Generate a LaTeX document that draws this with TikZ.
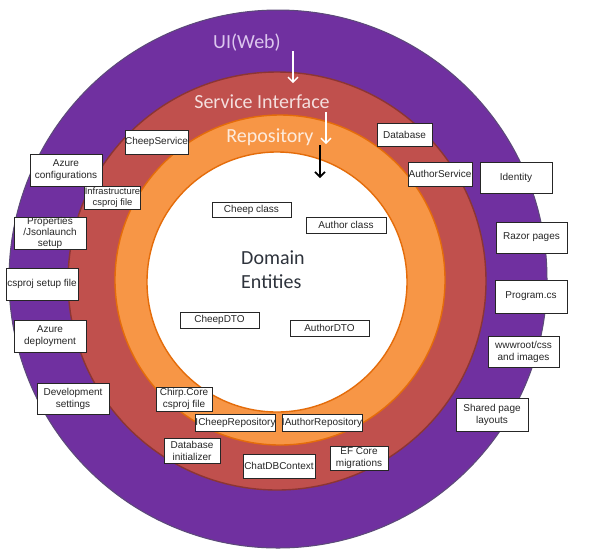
\documentclass[tikz,border=0pt]{standalone}
\usepackage{fontspec}
\setmainfont{Liberation Sans}
\newfontfamily\calib{Carlito}
\usetikzlibrary{arrows.meta}
\definecolor{cpurple}{HTML}{7030A0}
\definecolor{cpurpleedge}{HTML}{5B4A78}
\definecolor{cred}{HTML}{C0504D}
\definecolor{crededge}{HTML}{8C3533}
\definecolor{corange}{HTML}{F79646}
\definecolor{corangeedge}{HTML}{E46C0A}
\definecolor{tui}{HTML}{DCC6EE}
\definecolor{tsi}{HTML}{F4DEDD}
\definecolor{trepo}{HTML}{FDEBDD}
\definecolor{tdom}{HTML}{2E333C}
\begin{document}
\begin{tikzpicture}[x=1pt,y=-1pt,
  bx/.style={draw=black!85, line width=0.8pt, fill=white, inner sep=0pt, align=center,
    font=\fontsize{10}{12}\selectfont, text=black!85},
  ttl/.style={font=\calib\fontsize{20}{24}\selectfont, inner sep=0pt},
  warrow/.style={draw=white, line width=1.4pt, -{Straight Barb[length=5pt,width=10pt,line width=1.4pt]}},
  barrow/.style={draw=black, line width=1.6pt, -{Straight Barb[length=5pt,width=10pt,line width=1.6pt]}}]
\useasboundingbox (0,0) rectangle (594,550);
\fill[white] (0,0) rectangle (594,550);
% rings
\draw[fill=cpurple, draw=cpurpleedge, line width=1pt] (278,279) circle[radius=269pt];
\draw[fill=cred, draw=crededge, line width=1.4pt] (277,281) circle[radius=209pt];
\draw[fill=corange, draw=corangeedge, line width=1.4pt] (280,280) circle[radius=165pt];
\draw[fill=white, draw=corangeedge, line width=1.4pt] (277,282) circle[radius=130pt];
% titles
\node[ttl, text=tui, anchor=base] (ui) at (247,48) {UI(Web)};
\node[ttl, text=tsi, anchor=base] (si) at (262,108) {Service Interface};
\node[ttl, text=trepo, anchor=base] (repo) at (270,142) {Repository};
\node[ttl, text=tdom, anchor=base west] (dom1) at (241,264) {Domain};
\node[ttl, text=tdom, anchor=base west] (dom2) at (241,288) {Entities};
% arrows
\coordinate (a1s) at (293,51);
\coordinate (a1e) at (293,83);
\coordinate (a2s) at (326,112);
\coordinate (a2e) at (326,144);
\coordinate (a3s) at (320,145);
\coordinate (a3e) at (320,178);
\draw[warrow] (a1s) -- (a1e);
\draw[warrow] (a2s) -- (a2e);
\draw[barrow] (a3s) -- (a3e);
% boxes
\node[bx, minimum width=63, minimum height=24] (cheepservice) at (156.5,142) {CheepService};
\node[bx, minimum width=55, minimum height=23] (database) at (404.5,134.5) {Database};
\node[bx, minimum width=64, minimum height=24] (authorservice) at (440,174) {AuthorService};
\node[bx, minimum width=72, minimum height=31] (identity) at (516,177.5) {Identity};
\node[bx, minimum width=71, minimum height=31] (razor) at (531.5,237.5) {Razor pages};
\node[bx, minimum width=72, minimum height=33] (program) at (531,296.5) {Program.cs};
\node[bx, minimum width=71, minimum height=31] (wwwroot) at (523.5,351.5) {wwwroot/css\\and images};
\node[bx, minimum width=72, minimum height=33] (shared) at (492,414.5) {Shared page\\layouts};
\node[bx, minimum width=72, minimum height=32] (azconf) at (66,170) {Azure\\configurations};
\node[bx, minimum width=55, minimum height=23, font=\fontsize{9.4}{11.5}\selectfont] (infra) at (112.5,197.5) {Infrastructure\\csproj file};
\node[bx, minimum width=72, minimum height=32, font=\fontsize{10}{11.3}\selectfont] (props) at (50,233) {Properties\\/Jsonlaunch\\setup};
\node[bx, minimum width=72, minimum height=32] (csprojsetup) at (42,284) {csproj setup file};
\node[bx, minimum width=72, minimum height=32] (azdeploy) at (50,336) {Azure\\deployment};
\node[bx, minimum width=72, minimum height=31] (devset) at (73,398.5) {Development\\settings};
\node[bx, minimum width=56, minimum height=24] (chirpcore) at (184,399) {Chirp.Core\\csproj file};
\node[bx, minimum width=79, minimum height=17] (icheeprepo) at (235.5,422.5) {ICheepRepository};
\node[bx, minimum width=80, minimum height=17] (iauthorrepo) at (322,422.5) {IAuthorRepository};
\node[bx, minimum width=56, minimum height=25] (dbinit) at (192,450.5) {Database\\initializer};
\node[bx, minimum width=72, minimum height=24] (chatdb) at (279,466) {ChatDBContext};
\node[bx, minimum width=58, minimum height=24] (efcore) at (359,458) {EF Core\\migrations};
\node[bx, minimum width=79, minimum height=15] (cheepclass) at (251.5,209.5) {Cheep class};
\node[bx, minimum width=80, minimum height=16] (authorclass) at (346,225) {Author class};
\node[bx, minimum width=79, minimum height=16] (cheepdto) at (219.5,320) {CheepDTO};
\node[bx, minimum width=79, minimum height=16] (authordto) at (329.5,328) {AuthorDTO};
\end{tikzpicture}
\end{document}
